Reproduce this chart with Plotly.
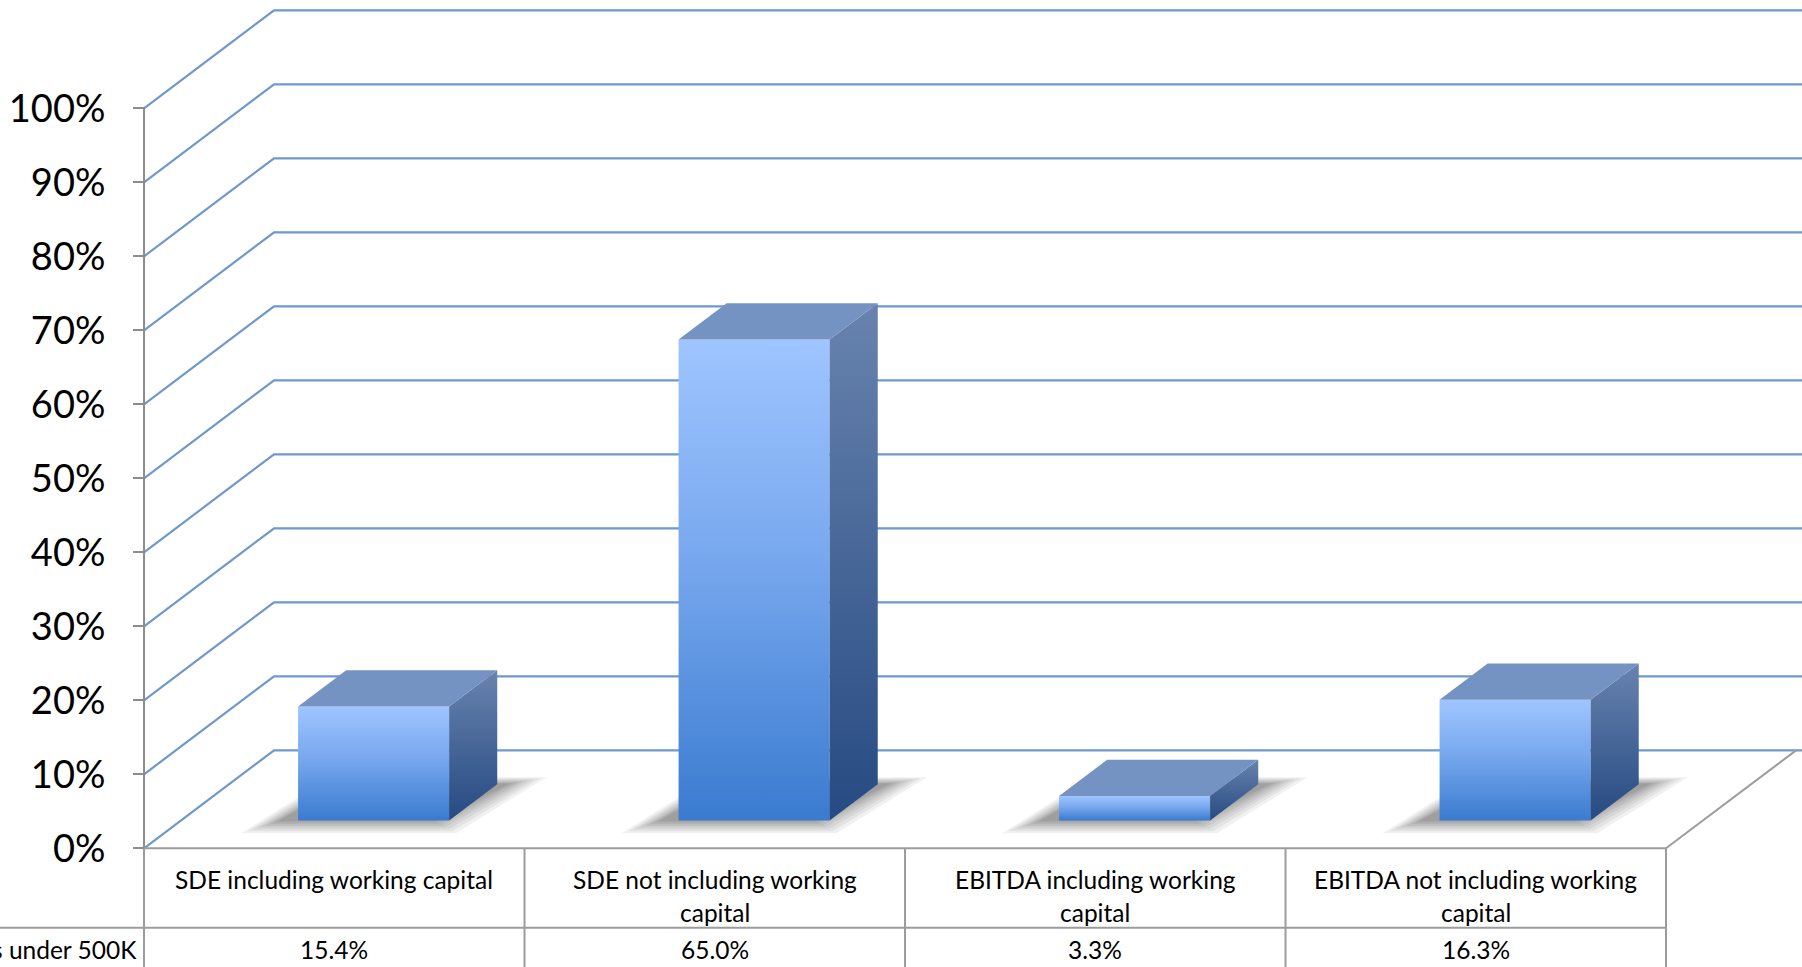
import plotly.graph_objects as go

# ---- data -------------------------------------------------------------
categories = [
    "SDE including working capital",
    "SDE not including working<br>capital",
    "EBITDA including working<br>capital",
    "EBITDA not including working<br>capital",
]
series_name = "s under 500K"
values = [15.4, 65.0, 3.3, 16.3]
y_ticks = [0, 10, 20, 30, 40, 50, 60, 70, 80, 90, 100]
y_tick_labels = [f"{t}%" for t in y_ticks]

# ---- oblique 3-D projection (x in category units, y in percent) -------
DEPTH_X = 0.3417      # horizontal shift of the back wall
DEPTH_Y = 13.24       # vertical shift of the back wall
BAR_HALF = 0.1985     # half width of a column
BAR_SHIFT = 0.006     # small horizontal nudge of the columns
BAR_FRONT = 0.285     # column front, as a fraction of floor depth
BAR_BACK = 0.655      # column back
X_RANGE = [-0.3785, 4.3574]
Y_RANGE = [-16.04, 114.64]
ROW_SPLIT = -10.73
LABEL_LINES_Y = [-4.2, -8.7]
VALUE_ROW_Y = -13.65

GRID_BLUE = "#6f98cc"
TABLE_GREY = "#9c9c9c"
FONT = "Lato, 'Open Sans', sans-serif"
TABLE_FONT_SIZE = 24.5

n = len(categories)
fig = go.Figure()

# back wall gridlines: diagonal on the side wall, horizontal on the back wall
for t in y_ticks:
    fig.add_trace(go.Scatter(
        x=[0, DEPTH_X, X_RANGE[1] + 0.1],
        y=[t, t + DEPTH_Y, t + DEPTH_Y],
        mode="lines", line=dict(color=GRID_BLUE, width=2.2),
        hoverinfo="skip", showlegend=False))

# floor right edge
fig.add_trace(go.Scatter(
    x=[n, n + DEPTH_X], y=[0, DEPTH_Y], mode="lines",
    line=dict(color=TABLE_GREY, width=2), hoverinfo="skip", showlegend=False))


def poly(xs, ys, **kw):
    fig.add_trace(go.Scatter(
        x=xs + [xs[0]], y=ys + [ys[0]], mode="lines", fill="toself",
        line=dict(width=0), hoverinfo="skip", showlegend=False, **kw))


for i, v in enumerate(values):
    c = i + 0.5 + BAR_SHIFT
    xl0 = c - BAR_HALF + BAR_FRONT * DEPTH_X
    xr0 = c + BAR_HALF + BAR_FRONT * DEPTH_X
    xl1 = c - BAR_HALF + BAR_BACK * DEPTH_X
    xr1 = c + BAR_HALF + BAR_BACK * DEPTH_X
    y0 = BAR_FRONT * DEPTH_Y
    y1 = BAR_BACK * DEPTH_Y

    # soft floor shadow built from stacked translucent footprints
    for e in [0.105, 0.088, 0.072, 0.057, 0.043, 0.030, 0.018, 0.008]:
        ex, ey = e, e * 30
        sx = -0.045
        poly([xl0 - ex + sx, xr0 + ex * 0.6 + sx, xr1 + ex + 0.025, xl1 - ex * 0.4],
             [y0 - ey * 0.55, y0 - ey * 0.55, y1 + ey * 0.3, y1 + ey * 0.3],
             fillcolor="rgba(0,0,0,0.055)")

    # front face
    poly([xl0, xr0, xr0, xl0], [y0, y0, y0 + v, y0 + v],
         fillgradient=dict(type="vertical",
                           colorscale=[[0, "#3a7bd0"], [0.55, "#78a8ee"], [1, "#9fc5ff"]]))
    # right side face
    poly([xr0, xr1, xr1, xr0], [y0, y1, y1 + v, y0 + v],
         fillgradient=dict(type="vertical",
                           colorscale=[[0, "#264a82"], [1, "#6883ae"]]))
    # top face
    poly([xl0, xr0, xr1, xl1], [y0 + v, y0 + v, y1 + v, y1 + v],
         fillcolor="#7593c2")

shapes = []
# value axis line
shapes.append(dict(type="line", xref="x", yref="y", x0=0, x1=0, y0=0, y1=100,
                   line=dict(color="#8c8c8c", width=2)))
# data table grid
shapes.append(dict(type="line", xref="x", yref="y", x0=0, x1=n, y0=0, y1=0,
                   line=dict(color=TABLE_GREY, width=2)))
shapes.append(dict(type="line", xref="x", yref="y", x0=X_RANGE[0], x1=n,
                   y0=ROW_SPLIT, y1=ROW_SPLIT, line=dict(color=TABLE_GREY, width=2)))
for k in range(n + 1):
    shapes.append(dict(type="line", xref="x", yref="y", x0=k, x1=k,
                       y0=0, y1=Y_RANGE[0], line=dict(color=TABLE_GREY, width=2)))

table_font = dict(family=FONT, size=TABLE_FONT_SIZE, color="#000")
annotations = []
for i, (cat, v) in enumerate(zip(categories, values)):
    for j, line in enumerate(cat.split("<br>")):
        annotations.append(dict(x=i + 0.5, y=LABEL_LINES_Y[j], xref="x", yref="y",
                                text=line, showarrow=False, xanchor="center",
                                yanchor="middle", font=table_font))
    annotations.append(dict(x=i + 0.5, y=VALUE_ROW_Y, xref="x", yref="y",
                            text=f"{v:.1f}%", showarrow=False, xanchor="center",
                            yanchor="middle", font=table_font))
annotations.append(dict(x=-0.012, y=VALUE_ROW_Y, xref="x", yref="y", text=series_name,
                        showarrow=False, xanchor="right", yanchor="middle",
                        font=table_font))

fig.update_layout(
    width=1802, height=967,
    margin=dict(l=0, r=0, t=0, b=0),
    paper_bgcolor="white", plot_bgcolor="white",
    showlegend=False,
    shapes=shapes,
    annotations=annotations,
    xaxis=dict(range=X_RANGE, domain=[0, 1], visible=False, fixedrange=True),
    yaxis=dict(range=Y_RANGE, domain=[0, 1], anchor="free", position=144 / 1802,
               tickvals=y_ticks, ticktext=y_tick_labels, ticks="outside",
               ticklen=11, tickwidth=2, tickcolor="#8c8c8c",
               ticklabelstandoff=20, showline=False, showgrid=False,
               zeroline=False, fixedrange=True,
               tickfont=dict(family=FONT, size=38, color="#000")),
)

fig.write_html("out.html")
